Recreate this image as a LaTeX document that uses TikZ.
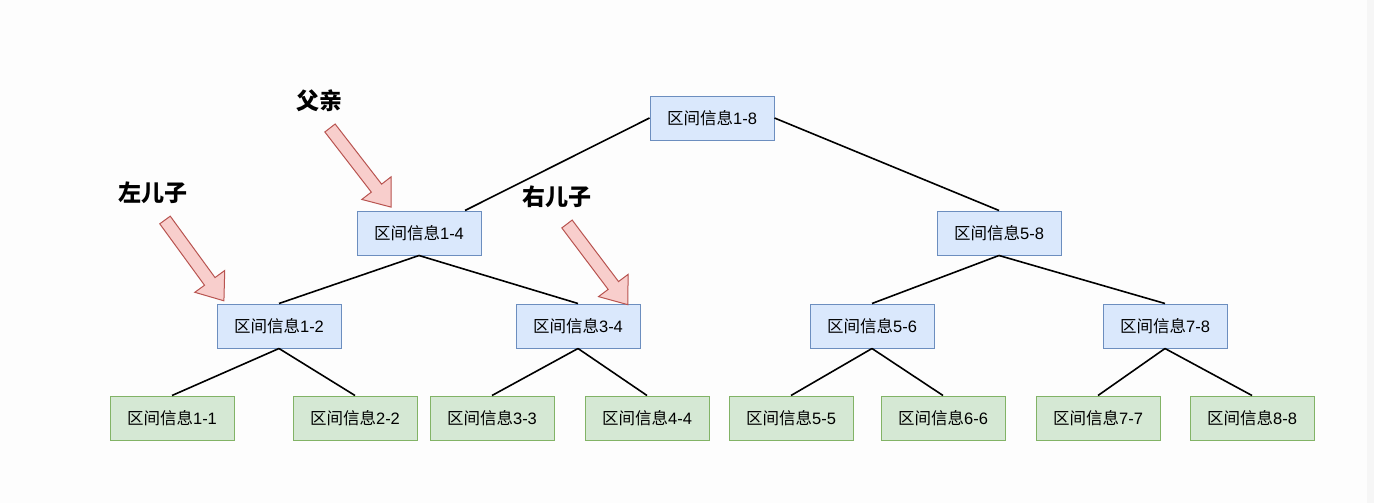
\documentclass[tikz,border=0pt]{standalone}
\usepackage{fontspec}
\setmainfont{Liberation Sans}
\newfontfamily\cjk{Noto Sans CJK SC}
\definecolor{blueF}{HTML}{DAE8FC}
\definecolor{blueD}{HTML}{6C8EBF}
\definecolor{greenF}{HTML}{D5E8D4}
\definecolor{greenD}{HTML}{82B366}
\definecolor{redF}{HTML}{F8CECC}
\definecolor{redD}{HTML}{B85450}
\definecolor{bgc}{HTML}{FDFDFD}
\definecolor{stripc}{HTML}{F6F6F6}
\newcommand\qjxx[1]{{\cjk 区间信息}#1}
\begin{document}
\begin{tikzpicture}[x=1pt,y=-1pt,
  box/.style={draw, line width=1pt, minimum width=124pt, minimum height=44pt, inner sep=0pt, font=\fontsize{16.5}{19}\selectfont},
  inner/.style={box, fill=blueF, draw=blueD},
  leaf/.style={box, fill=greenF, draw=greenD},
  edge/.style={line width=1.6pt, black},
  lbl/.style={font=\cjk\bfseries\fontsize{23}{26}\selectfont, inner sep=0pt},
  barrow/.style={fill=redF, draw=redD, line width=1pt, line join=miter}]
\useasboundingbox (0,0) rectangle (1374,503);
\fill[bgc] (0,0) rectangle (1374,503);
\fill[stripc] (1367,0) rectangle (1374,503);

% nodes
\node[inner] (n18) at (712,118) {\qjxx{1-8}};
\node[inner] (n14) at (419,233) {\qjxx{1-4}};
\node[inner] (n58) at (999,233) {\qjxx{5-8}};
\node[inner] (n12) at (279,326) {\qjxx{1-2}};
\node[inner] (n34) at (578,326) {\qjxx{3-4}};
\node[inner] (n56) at (872,326) {\qjxx{5-6}};
\node[inner] (n78) at (1165,326) {\qjxx{7-8}};
\node[leaf] (n11) at (172,418) {\qjxx{1-1}};
\node[leaf] (n22) at (355,418) {\qjxx{2-2}};
\node[leaf] (n33) at (492,418) {\qjxx{3-3}};
\node[leaf] (n44) at (647,418) {\qjxx{4-4}};
\node[leaf] (n55) at (791,418) {\qjxx{5-5}};
\node[leaf] (n66) at (943,418) {\qjxx{6-6}};
\node[leaf] (n77) at (1098,418) {\qjxx{7-7}};
\node[leaf] (n88) at (1252,418) {\qjxx{8-8}};

% edges
\draw[edge] (n18.west) -- ([xshift=46pt]n14.north);
\draw[edge] (n18.east) -- (n58.north);
\draw[edge] (n14.south) -- (n12.north);
\draw[edge] (n14.south) -- (n34.north);
\draw[edge] (n58.south) -- (n56.north);
\draw[edge] (n58.south) -- (n78.north);
\draw[edge] (n12.south) -- (n11.north);
\draw[edge] (n12.south) -- (n22.north);
\draw[edge] (n34.south) -- (n33.north);
\draw[edge] (n34.south) -- (n44.north);
\draw[edge] (n56.south) -- (n55.north);
\draw[edge] (n56.south) -- (n66.north);
\draw[edge] (n78.south) -- (n77.north);
\draw[edge] (n78.south) -- (n88.north);

% labels
\node[lbl] (fq) at (319,101) {父亲};
\node[lbl] (zez) at (153,193) {左儿子};
\node[lbl] (yez) at (557,197) {右儿子};

% block arrows
\coordinate (t1) at (330,128);
\coordinate (t2) at (165,220);
\coordinate (t3) at (567,224);
\begin{scope}[shift={(t1)}, rotate=-52.3]
\draw[barrow] (0,-6.5) -- (76,-6.5) -- (76,-18.5) -- (100,0) -- (76,18.5) -- (76,6.5) -- (0,6.5) -- cycle;
\end{scope}
\begin{scope}[shift={(t2)}, rotate=-53.9]
\draw[barrow] (0,-6.5) -- (76,-6.5) -- (76,-18.5) -- (100,0) -- (76,18.5) -- (76,6.5) -- (0,6.5) -- cycle;
\end{scope}
\begin{scope}[shift={(t3)}, rotate=-53.0]
\draw[barrow] (0,-6.5) -- (77,-6.5) -- (77,-18.5) -- (101,0) -- (77,18.5) -- (77,6.5) -- (0,6.5) -- cycle;
\end{scope}
\end{tikzpicture}
\end{document}
